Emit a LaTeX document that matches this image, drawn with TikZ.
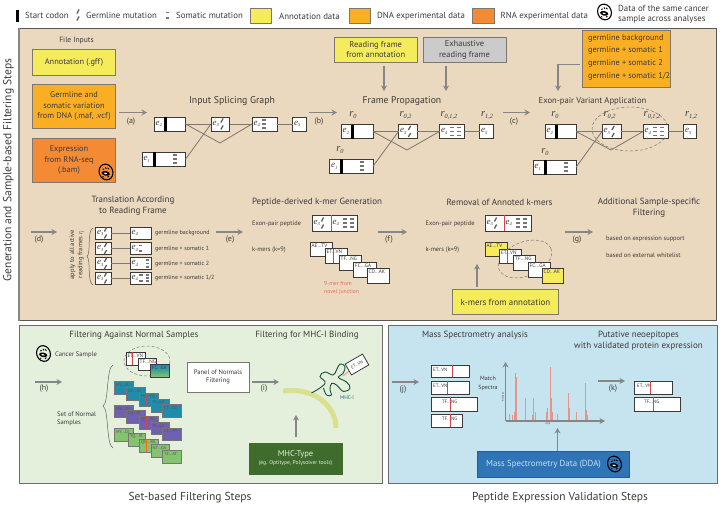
\documentclass[tikz,border=0pt]{standalone}
\usepackage{fontspec}
\setmainfont{PT Sans}
\newfontfamily\serifit[ItalicFont=Liberation Serif Italic]{Liberation Serif}
\usetikzlibrary{arrows.meta,calc}

\definecolor{ink}{HTML}{3C3A38}
\definecolor{flowgray}{HTML}{868686}
\definecolor{edgegray}{HTML}{7D7770}
\definecolor{annot}{HTML}{F5EC5C}
\definecolor{dnaorange}{HTML}{FAAE24}
\definecolor{rnaorange}{HTML}{F58A35}
\definecolor{sand}{HTML}{EAD8BF}
\definecolor{mint}{HTML}{E4F0DC}
\definecolor{sky}{HTML}{C6E4F0}
\definecolor{frameinfo}{HTML}{CBCBCB}
\definecolor{junction}{HTML}{D8434A}
\definecolor{notered}{HTML}{E0705A}
\definecolor{peak}{HTML}{E8948A}
\definecolor{teal}{HTML}{1F8CAC}
\definecolor{violet}{HTML}{6F60B0}
\definecolor{leaf}{HTML}{84C46E}
\definecolor{mhcgreen}{HTML}{3F6B2D}
\definecolor{msblue}{HTML}{2F74B7}
\definecolor{groove}{HTML}{D9E08E}
\definecolor{coil}{HTML}{174F38}

\newcommand{\fz}[2]{\fontsize{#1}{#2}\selectfont}

\tikzset{
  flow/.style={draw=flowgray,line width=1.1pt,-{Stealth[length=5.5pt,width=6pt]}},
  link/.style={draw=edgegray,line width=0.8pt},
  tbox/.style={inner sep=0pt,outer sep=0pt,align=center,text=ink},
  lbl/.style={inner sep=0pt,text=ink,font=\fz{6.4}{7.5},align=left,anchor=west},
  legendlbl/.style={lbl,font=\fz{8.8}{10.5}},
  head/.style={inner sep=0pt,text=ink,font=\fz{9}{11},align=center},
  steplbl/.style={inner sep=0pt,text=ink,font=\fz{8}{9}},
  frame/.style={inner sep=0pt,text=ink},
  exonbox/.style={draw=ink,fill=white,line width=0.8pt,inner sep=0pt,outer sep=0pt},
  kmerbox/.style={draw=ink,fill=white,line width=0.8pt,inner sep=0pt,outer sep=0pt},
  swatch/.style={draw=edgegray,line width=0.6pt,inner sep=0pt,outer sep=0pt},
  ring/.style={draw=edgegray,densely dashed,line width=0.5pt},
  bracket/.style={draw=ink!80,line width=0.5pt},
  pics/cellicon/.style={code={
    \draw[black,line width=1.1pt,rotate=20] (0,0) ellipse (6.8 and 8);
    \fill[black,rotate=-12] (0,1.4) ellipse (4.2 and 2.3);
    \fill[white,rotate=-12] (-0.2,1.4) ellipse (1.9 and 0.8);
    \draw[black,line width=0.9pt] (-3.2,-2.4) -- (-1.8,-3.2) (-0.6,-4.6) -- (0.4,-3.2) (1.6,-4.2) -- (3.0,-2.8) (-3.6,4.6) -- (-2.2,5) (1.4,5.2) -- (3,4.2);
  }}
}

% a box given by its corners
\newcommand{\bx}[7]{\node[#2,anchor=north west,minimum width={(#5-(#3))*1pt},minimum height={(#6-(#4))*1pt}] (#1) at (#3,#4) {#7};}
% an exon box with its italic label at the left edge
\newcommand{\exon}[6]{\bx{#1}{exonbox}{#2}{#3}{#4}{#5}{}
  \node[inner sep=0pt,text=ink] (#1l) at ({#2+4.8},{(#3+#5)/2}) {\fz{9}{10}\serifit\itshape e\raisebox{-1.6pt}{\fz{4.6}{5}#6}};}
\newcommand{\startbar}[3]{\fill[black] (#1-1.4,#2) rectangle (#1+1.4,#3);}
% germline mutation ticks and somatic mutation dashes
\newcommand{\germ}[2]{\draw[ink!80,line width=1.3pt] (#1-1.1,#2-1.5) -- (#1+1.1,#2-5.5) (#1-1.1,#2+5.5) -- (#1+1.1,#2+1.5);}
\newcommand{\soma}[2]{\draw[ink!70,line width=1.2pt] (#1-2,#2-4) -- (#1+2,#2-4) (#1-2,#2) -- (#1+2,#2) (#1-2,#2+4) -- (#1+2,#2+4);}
\newcommand{\frm}[4]{\node[frame] (#1) at (#2,#3) {\fz{10.5}{11}\serifit\itshape r\raisebox{-2pt}{\fz{6.3}{7}#4}};}
% a step arrow with its letter underneath
\newcommand{\stepflow}[6]{\coordinate (#1s) at (#2,#4); \coordinate (#1e) at (#3,#4);
  \draw[flow] (#1s) -- (#1e); \node[steplbl] (#1l) at (#5,#6) {(#1)};}
% a k-mer tile
\newcommand{\kmer}[7]{\bx{#1}{kmerbox,fill=#7}{#2}{#3}{#4}{#5}{}
  \node[inner sep=0pt,anchor=west,text=ink,font=\fz{5.2}{6}] (#1t) at (#2+1.5,#3+3.6) {#6};}
\newcommand{\normal}[7]{\bx{#1}{draw=ink!70,line width=0.5pt,inner sep=0pt,fill=#7}{#2}{#3}{#4}{#5}{}
  \node[inner sep=0pt,anchor=west,text=ink!85,font=\fz{4.4}{5}] (#1t) at (#2+2,#3+3.6) {#6};}
\newcommand{\mspep}[7]{\bx{#1}{draw=ink,line width=0.8pt,inner sep=0pt,fill=white}{#2}{#3}{#4}{#5}{}
  \node[inner sep=0pt,anchor=west,text=ink,font=\fz{4.8}{5}] (#1t) at (#2+#6,#3+5) {#7};}

\begin{document}
\begin{tikzpicture}[x=1pt,y=-1pt]
\useasboundingbox (0,0) rectangle (720,506);

% ---- panels
\bx{panelA}{draw=ink!85,line width=1pt,fill=sand,inner sep=0pt}{19}{27.5}{716}{320}{}
\draw[flowgray,line width=1.4pt] (panelA.north west) -- (panelA.south west);
\bx{panelB}{draw=ink!75,line width=0.9pt,fill=mint,inner sep=0pt}{19}{325}{382}{483}{}
\bx{panelC}{draw=ink!75,line width=0.9pt,fill=sky,inner sep=0pt}{387.5}{325}{717}{483}{}

% ---- legend
\startbar{17.5}{10}{21.5}
\node[legendlbl] (legA) at (25,15.5) {Start codon};
\germ{78}{15}
\node[legendlbl] (legB) at (86,15.5) {Germline mutation};
\draw[ink!70,line width=1.4pt] (166,12.5) -- (169,12.5) (166,18) -- (169,18);
\node[legendlbl] (legC) at (176,15.5) {Somatic mutation};
\bx{swA}{swatch,fill=annot}{250.5}{8.5}{271.5}{23}{}
\node[legendlbl] (legD) at (279,16) {Annotation data};
\bx{swB}{swatch,fill=dnaorange}{349}{8.5}{370}{23}{}
\node[legendlbl] (legE) at (377,16) {DNA experimental data};
\bx{swC}{swatch,fill=rnaorange}{472.5}{8.5}{494}{23}{}
\node[legendlbl] (legF) at (500.5,16) {RNA experimental data};
\pic at (604.5,12) {cellicon};
\node[lbl,font=\fz{8.8}{10.5}] (legG) at (618,14.5) {Data of the same cancer\\sample across analyses};

\node[rotate=90,inner sep=0pt,text=ink,font=\fz{11.5}{13}] (sideA) at (8.5,170) {Generation and Sample-based Filtering Steps};

% ---- file inputs
\node[tbox,font=\fz{7.6}{9}] (inTitle) at (76.5,41) {File Inputs};
\bx{inA}{swatch,fill=annot,tbox,font=\fz{8.3}{10}}{32.5}{49.5}{115.5}{75}{Annotation (.gff)}
\bx{inB}{swatch,fill=dnaorange,tbox,font=\fz{8.3}{10.8}}{32.5}{84}{115.5}{128}{Germline and\\somatic variation\\from DNA (.maf, .vcf)}
\bx{inC}{swatch,fill=rnaorange,tbox,font=\fz{8.3}{10.8}}{32.5}{138}{115.5}{182}{\hspace*{-10pt}Expression\\\hspace*{-10pt}from RNA-seq\\\hspace*{-10pt}(.bam)}
\pic at (106,172) {cellicon};

% ---- input splicing graph
\stepflow{a}{119}{147}{112.5}{131}{122}
\node[head,font=\fz{9.8}{11}] (titleA) at (232,101) {Input Splicing Graph};
\exon{iTwo}{154}{117}{185.5}{131}{2}
\exon{iOne}{142}{152}{185.5}{166.5}{1}
\exon{iThree}{211}{117}{229.5}{131}{3}
\exon{iFour}{252}{117}{277}{131}{4}
\exon{iFive}{292.5}{117}{306}{131}{5}
\startbar{165.5}{117}{131} \startbar{154.5}{152}{166.5}
\germ{222}{124} \soma{264}{124} \soma{175}{159}
\coordinate (iDip) at (220,143);
\draw[link] (iTwo.east) -- (iThree.west);
\draw[link] (iTwo.east) -- (iDip) -- (iFour.west);
\draw[link] (iOne.east) -- (iThree.west);
\draw[link] (iThree.east) -- (iFour.west);
\draw[link] (iFour.east) -- (iFive.west);

% ---- frame propagation
\stepflow{b}{309}{337}{112.5}{319}{122}
\bx{rfA}{swatch,fill=annot,tbox,font=\fz{8.5}{10.5}}{334.5}{37}{417}{62.5}{Reading frame\\from annotation}
\bx{rfB}{swatch,fill=frameinfo,tbox,font=\fz{8.5}{10.5}}{423}{37}{506}{62.5}{Exhaustive\\reading frame}
\node[head,font=\fz{9.7}{11}] (titleB) at (402,101) {Frame Propagation};
\coordinate (fpA) at (384,91); \coordinate (fpB) at (446,91);
\draw[flow] (rfA.south -| fpA) ++(0,3) -- (fpA);
\draw[flow] (rfB.south -| fpB) ++(0,3) -- (fpB);
\exon{fTwo}{341}{124.5}{373}{138.5}{2}
\exon{fOne}{329.5}{159}{373}{173.5}{1}
\exon{fThree}{398.5}{124.5}{417}{138.5}{3}
\exon{fFour}{439.5}{124.5}{464.5}{138.5}{4}
\exon{fFive}{479.5}{124.5}{493}{138.5}{5}
\startbar{352.5}{124.5}{138.5} \startbar{341.5}{159}{173.5}
\germ{409.5}{131.5} \soma{451.5}{131.5} \soma{458.5}{131.5} \soma{362}{166}
\frm{fr1}{353}{115}{0} \frm{fr2}{340}{150}{0} \frm{fr3}{405.5}{116}{0,2} \frm{fr4}{449}{116}{0,1,2} \frm{fr5}{487}{116}{1,2}
\coordinate (fDip) at (407,150);
\draw[link] (fTwo.east) -- (fThree.west);
\draw[link] (fTwo.east) -- (fDip) -- (fFour.west);
\draw[link] (fOne.east) -- (fThree.west);
\draw[link] (fThree.east) -- (fFour.west);
\draw[link] (fFour.east) -- (fFive.west);

% ---- exon-pair variant application
\stepflow{c}{503}{530}{112.5}{514}{122}
\bx{varBox}{swatch,fill=dnaorange}{582}{30.5}{670}{87.5}{}
\node[lbl,font=\fz{8.3}{12.7},anchor=north west] (varText) at (588,34) {germline background\\germline + somatic 1\\germline + somatic 2\\germline + somatic 1/2};
\coordinate (varTurn) at (558,64.5); \coordinate (varEnd) at (558,91);
\draw[flow] (varBox.west |- varTurn) ++(-2,0) -- (varTurn) -- (varEnd);
\node[head,font=\fz{8.6}{11}] (titleC) at (592.5,101) {Exon-pair Variant Application};
\draw[ring] (630,129) ellipse (38 and 22);
\exon{vTwo}{545}{124.5}{576}{138.5}{2}
\exon{vOne}{533}{160}{576}{174.5}{1}
\exon{vThree}{602}{124.5}{621}{138.5}{3}
\exon{vFour}{643}{124.5}{668}{138.5}{4}
\exon{vFive}{683.5}{124.5}{696}{138.5}{5}
\startbar{556.5}{124.5}{138.5} \startbar{545.5}{160}{174.5}
\germ{613}{131.5} \soma{655}{131.5} \soma{662}{131.5} \soma{566}{167}
\frm{vr1}{555}{115}{0} \frm{vr2}{545}{152}{0} \frm{vr3}{609.5}{116}{0,2} \frm{vr4}{652}{116}{0,1,2} \frm{vr5}{691}{116}{1,2}
\coordinate (vDip) at (611,150);
\draw[link] (vTwo.east) -- (vThree.west);
\draw[link] (vTwo.east) -- (vDip) -- (vFour.west);
\draw[link] (vOne.east) -- (vThree.west);
\draw[link] (vThree.east) -- (vFour.west);
\draw[link] (vFour.east) -- (vFive.west);

% ---- translation
\stepflow{d}{31}{57}{232}{39}{240}
\node[head] (titleD) at (133,205.5) {Translation According\\to Reading Frame};
\node[rotate=90,tbox,font=\fz{6.5}{8.2}] (applyTo) at (77,254.5) {apply to all active\\reading frames {\serifit\itshape r\raisebox{-1pt}{\fz{4.5}{5}j}}};
\draw[bracket] (93,228) .. controls (87,230) and (91,254) .. (87,256.5) .. controls (91,259) and (87,283) .. (93,285);
\foreach \nm/\rowtop/\rowtag in {A/227/{germline background},B/242.5/{germline + somatic 1},C/257.5/{germline + somatic 2},D/272/{germline + somatic 1/2}}{
  \exon{tl\nm}{95.5}{\rowtop}{111}{\rowtop+12}{3}
  \exon{tr\nm}{130}{\rowtop}{151.5}{\rowtop+12}{4}
  \germ{105.5}{\rowtop+6}
  \draw[link] (tl\nm.east) -- (tr\nm.west);
  \node[lbl,font=\fz{6}{7}] (tag\nm) at (155,\rowtop+6) {\rowtag};
}
\draw[ink!70,line width=1.1pt] (139,245.5) -- (142,245.5) (139,251) -- (142,251)
  (146,260) -- (149,260) (146,263.5) -- (149,263.5) (146,267) -- (149,267)
  (139,275) -- (143,275) (139,281) -- (143,281) (146,275) -- (149,275) (146,278) -- (149,278) (146,281) -- (149,281);

% ---- k-mer generation
\stepflow{e}{216}{243}{232}{230}{240}
\node[head] (titleE) at (317,202) {Peptide-derived k-mer Generation};
\node[lbl] (gPair) at (252,224) {Exon-pair peptide};
\node[lbl] (gKmer) at (252,250) {k-mers (k=9)};
\exon{gThree}{312}{215}{331}{231}{3}
\exon{gFour}{331}{215}{357}{231}{4}
\germ{322.5}{223} \soma{344.5}{223} \soma{352}{223}
\draw[junction,line width=0.9pt] (gFour.north west) -- (gFour.south west);
\kmer{gA}{310}{242}{332}{256}{AE...TV}{white}
\kmer{gB}{325}{248.5}{347}{263}{ET...VN}{white}
\kmer{gC}{339}{255}{361}{270}{TF...NG}{white}
\kmer{gD}{353.5}{262}{376}{277}{FC...GA}{white}
\kmer{gE}{367}{268}{389}{283}{CD...AK}{white}
\draw[junction,line width=0.9pt] (333,248.5) -- (333,263);
\node[lbl,text=notered,font=\fz{5.7}{7.5}] (gNote) at (324,288) {9-mer from\\novel junction};

% ---- annotated k-mer removal
\stepflow{f}{378}{407}{232}{389}{240}
\node[head] (titleF) at (499.5,202) {Removal of Annoted k-mers};
\node[lbl] (rPair) at (425.5,224) {Exon-pair peptide};
\node[lbl] (rKmer) at (425.5,250) {k-mers (k=9)};
\exon{rThree}{485}{215}{504}{231}{3}
\exon{rFour}{504}{215}{531}{231}{4}
\germ{495.5}{223} \soma{517.5}{223} \soma{525}{223}
\draw[junction,line width=0.9pt] (rFour.north west) -- (rFour.south west);
\draw[ring,rotate around={22:(525,259)}] (525,259) ellipse (28 and 17);
\kmer{rA}{485}{242}{507}{256}{AE...TV}{annot}
\kmer{rB}{499.5}{249}{521.5}{263}{ET...VN}{white}
\kmer{rC}{513.5}{255}{535.5}{270}{TF...NG}{white}
\kmer{rD}{528}{262}{550}{277}{FC...GA}{white}
\kmer{rE}{542}{268}{563}{283}{CD...AK}{annot}
\draw[junction,line width=0.9pt] (507,249) -- (507,263);
\bx{rAnn}{swatch,fill=annot,tbox,font=\fz{8.9}{10}}{452.5}{289.5}{558.5}{314.5}{k-mers from annotation}
\coordinate (rUp) at (477,264);
\draw[flow] (rAnn.north -| rUp) ++(0,-3) -- (rUp);

% ---- additional filtering
\stepflow{g}{565}{593}{232}{577}{240}
\node[head] (titleG) at (649,207.5) {Additional Sample-specific\\Filtering};
\node[lbl] (gxA) at (606,239) {based on expression support};
\node[lbl] (gxB) at (606,255) {based on external whitelist};

% ---- normal samples
\node[head] (titleH) at (134,335) {Filtering Against Normal Samples};
\pic at (43.5,353.5) {cellicon};
\node[lbl,font=\fz{6.6}{8}] (hCancer) at (55,354.5) {Cancer Sample};
\stepflow{h}{35}{62}{382}{44}{389}
\node[lbl,font=\fz{6.6}{8.2}] (hSet) at (57,419) {Set of Normal\\Samples};
\draw[bracket] (113,365) .. controls (106,368) and (109,403) .. (103,406) .. controls (109,409) and (106,445) .. (113,448);
\draw[ring] (147,361) ellipse (23 and 15);
\kmer{hA}{126}{352}{145}{365}{ET...VN}{white}
\kmer{hB}{138}{358}{156.5}{370.5}{TF...NG}{white}
\bx{hC}{draw=ink,line width=0.7pt,inner sep=0pt,top color=teal,bottom color=leaf,middle color=teal!60!leaf}{150}{364}{169}{376.5}{}
\node[inner sep=0pt,anchor=west,text=ink,font=\fz{4.6}{5}] (hCt) at (152,367.5) {FC...GA};
\draw[junction,line width=0.9pt] (132.5,352) -- (132.5,365);
\normal{nAa}{114}{381}{133}{394}{NY...IA}{teal}
\normal{nAb}{126}{387}{145}{400}{SH...KI}{teal}
\normal{nAc}{139}{393}{157.5}{406}{HE...VQ}{teal}
\normal{nAd}{150.5}{398.5}{169}{412}{IY...GA}{teal}
\normal{nAe}{162}{404}{180.5}{417}{CT...AD}{teal}
\normal{nBa}{114}{405}{132.5}{417}{MK...DI}{violet}
\normal{nBb}{126}{410}{145}{422.5}{LQ...IR}{violet}
\normal{nBc}{139}{416}{157.5}{428.5}{QF...RG}{violet}
\normal{nBd}{150.5}{422}{169}{434}{IY...GA}{violet}
\normal{nBe}{162}{427.5}{180.5}{440}{CE...AT}{violet}
\normal{nCa}{114}{428}{132.5}{441}{MY...DI}{leaf}
\normal{nCb}{128}{433}{145}{446}{YQ...IR}{leaf}
\normal{nCc}{139}{439}{157.5}{452}{QN...RG}{leaf}
\normal{nCd}{150.5}{444}{169}{457}{NT...GA}{leaf}
\normal{nCe}{162}{450}{180.5}{463}{TE...AT}{leaf}
\draw[junction!80!violet,line width=0.9pt] (146,393) -- (146,406);
\draw[junction,line width=0.9pt] (146,416) -- (146,428.5);
\draw[orange!80!red,line width=0.9pt] (146,439) -- (146,452);
\bx{pon}{draw=edgegray,line width=0.6pt,fill=white,tbox,font=\fz{6.6}{8}}{187}{362}{249}{392}{Panel of Normals\\Filtering}

% ---- MHC binding
\stepflow{i}{252}{279}{382}{264}{389}
\node[head] (titleI) at (307,335) {Filtering for MHC-I Binding};
\draw[groove,line width=5pt] (283,391) .. controls (313,387) and (336,405) .. (336,428);
\draw[coil,line width=0.9pt] plot[smooth,tension=0.7] coordinates {(311.5,393) (325,383.5) (320,376.5) (325,372) (333,375) (336.5,370) (340,364) (345,366.5) (343,373.5) (338.5,377.5) (346.5,382) (350,388) (343.5,391.5) (336.5,385) (331.5,383.5) (330,390) (331.5,395) (326.5,395) (323.5,388)};
\node[inner sep=0pt,text=teal!50!coil,font=\fz{5.3}{6}] (mhcName) at (347,398) {MHC-I};
\coordinate (mhcFoot) at (343,376);
\draw[junction!55!white,line width=0.9pt] (mhcFoot) -- (357,364.5);
\node[draw=ink,line width=0.8pt,fill=white,rotate=30,minimum width=20pt,minimum height=12.5pt,inner sep=0pt,outer sep=0pt,text=ink,font=\fz{4.4}{5}] (mhcPep) at (357,364.5) {ET...VN};
\bx{mhcType}{draw=mhcgreen,fill=mhcgreen,inner sep=0pt,outer sep=0pt}{249}{443}{342}{474}{}
\node[inner sep=0pt,text=mint,font=\fz{8.5}{10}] (mhcA) at (295.5,454) {MHC-Type};
\node[inner sep=0pt,text=mint,font=\fz{5.6}{7}] (mhcB) at (295.5,463.5) {(eg. Optitype, Polysolver tools)};
\coordinate (mhcUp) at (296,415);
\draw[flow] (mhcType.north -| mhcUp) ++(0,-6) -- (mhcUp);

% ---- mass spectrometry
\node[head] (titleJ) at (475,335) {Mass Spectrometry analysis};
\node[head] (titleK) at (638.5,340.5) {Putative neoepitopes\\with validated protein expression};
\stepflow{j}{392}{419}{382}{403}{390}
\mspep{msa}{431}{364.5}{469}{377}{2}{ET...VN}
\mspep{msb}{431}{380.5}{469}{394}{2}{ET...VN}
\mspep{msc}{431}{397}{477}{411}{11}{TF...NG}
\mspep{msd}{431}{414}{462}{427}{11}{TF...NG}
\draw[junction,line width=0.9pt] (452.5,364.5) -- (452.5,377);
\draw[junction,line width=0.9pt] (447,380.5) -- (447,394);
\draw[junction,line width=0.9pt] (450,397) -- (450,411);
\draw[junction,line width=0.9pt] (450,414) -- (450,427);
\node[tbox,font=\fz{6}{9}] (matchLbl) at (488,383.5) {Match\\Spectra};
\foreach \z/\t in {388/298,398/300,403/290,407/175,410/185,435/250,437/300,458/300,461/250,466/290,498/290,503/280,512/155,514/250,518/290,533/298,564/235,569/280,589/290,616/205,619/285,623/300}{
  \draw[peak,line width=0.8pt] ({380+\z/3},421) -- ({380+\z/3},{315+\t/3});
}
\coordinate (axO) at (505.5,421); \coordinate (axY) at (505.5,362); \coordinate (axX) at (605,421);
\draw[flow] (axO) -- (axY);
\draw[flow] (axO) -- (axX);
\node[rotate=90,inner sep=0pt,text=ink,font=\fz{2.6}{3}] (axYl) at (503,397) {Intensity};
\node[inner sep=0pt,text=ink,font=\fz{3}{3}] (axXl) at (548,423.5) {m/z};
\bx{msBox}{draw=msblue!80!black,line width=0.5pt,fill=msblue,inner sep=0pt,outer sep=0pt}{477.5}{451}{629}{477}{}
\node[inner sep=0pt,text=sky,font=\fz{8.8}{10}] (msText) at (543.5,464.5) {Mass Spectrometry Data (DDA)};
\pic at (614.5,464) {cellicon};
\coordinate (msUp) at (557.5,428);
\draw[flow] (msBox.north -| msUp) -- (msUp);
\stepflow{k}{598}{625}{381}{613}{389}
\mspep{mse}{634}{380.5}{672}{394}{3}{ET...VN}
\mspep{msf}{634}{397}{680}{411}{10}{TF...NG}
\draw[junction,line width=0.9pt] (650,380.5) -- (650,394);
\draw[junction,line width=0.9pt] (653.5,397) -- (653.5,411);

% ---- section captions
\node[inner sep=0pt,text=ink,font=\fz{11.5}{14}] (capA) at (190,498) {Set-based Filtering Steps};
\node[inner sep=0pt,text=ink,font=\fz{11.5}{14}] (capB) at (560,498) {Peptide Expression Validation Steps};
\end{tikzpicture}
\end{document}
